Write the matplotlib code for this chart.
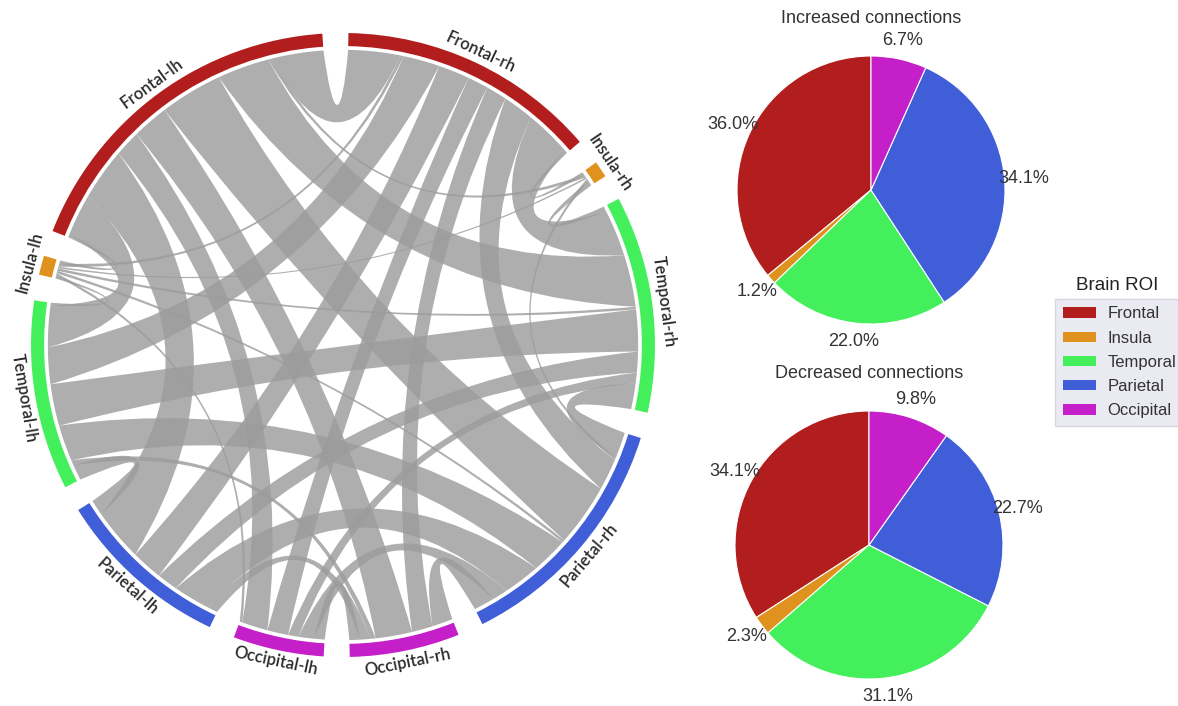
import numpy as np
import matplotlib.pyplot as plt
from matplotlib.path import Path
from matplotlib.patches import PathPatch, Wedge, Patch

plt.rcParams['font.family'] = ['Liberation Sans', 'DejaVu Sans']

# chord nodes, clockwise from the top
nodes = ['Frontal-rh', 'Insula-rh', 'Temporal-rh', 'Parietal-rh', 'Occipital-rh',
         'Occipital-lh', 'Parietal-lh', 'Temporal-lh', 'Insula-lh', 'Frontal-lh']
node_roi = ['Frontal', 'Insula', 'Temporal', 'Parietal', 'Occipital',
            'Occipital', 'Parietal', 'Temporal', 'Insula', 'Frontal']

# connections: node a, node b, strength
link_a = ['Frontal-lh', 'Frontal-lh', 'Frontal-lh', 'Frontal-lh', 'Frontal-lh',
          'Frontal-lh', 'Frontal-lh', 'Frontal-lh', 'Frontal-lh',
          'Frontal-rh', 'Frontal-rh', 'Frontal-rh', 'Frontal-rh', 'Frontal-rh',
          'Frontal-rh', 'Frontal-rh', 'Frontal-rh',
          'Temporal-rh', 'Temporal-rh', 'Temporal-rh', 'Temporal-rh', 'Temporal-rh',
          'Temporal-rh',
          'Parietal-rh', 'Parietal-rh', 'Parietal-rh', 'Parietal-rh', 'Parietal-rh',
          'Parietal-rh',
          'Occipital-rh', 'Occipital-rh', 'Occipital-rh',
          'Occipital-lh', 'Parietal-lh', 'Temporal-lh', 'Insula-lh']
link_b = ['Frontal-rh', 'Temporal-lh', 'Temporal-rh', 'Parietal-rh', 'Occipital-rh',
          'Parietal-lh', 'Occipital-lh', 'Insula-lh', 'Insula-rh',
          'Temporal-rh', 'Temporal-lh', 'Parietal-lh', 'Occipital-lh', 'Parietal-rh',
          'Occipital-rh', 'Insula-lh', 'Insula-rh',
          'Temporal-lh', 'Parietal-rh', 'Parietal-lh', 'Occipital-lh', 'Insula-rh',
          'Insula-lh',
          'Temporal-lh', 'Parietal-lh', 'Occipital-rh', 'Occipital-lh', 'Insula-lh',
          'Insula-rh',
          'Occipital-lh', 'Parietal-lh', 'Temporal-lh',
          'Insula-lh', 'Temporal-lh', 'Insula-lh', 'Insula-rh']
link_w = [10, 8, 10, 12, 7,
          10, 5, 0.6, 0.6,
          9, 7, 6, 4, 6,
          4, 0.6, 0.6,
          8, 5, 4, 2, 1,
          0.5,
          7, 7, 4, 3, 0.5,
          0.5,
          2, 2, 1,
          0.5, 3, 0.5, 0.3]

roi = ['Frontal', 'Insula', 'Temporal', 'Parietal', 'Occipital']
roi_colors = ['#b21e1e', '#e0921e', '#44ef5c', '#3f5ed8', '#c41fc8']
increased = [36.0, 1.2, 22.0, 34.1, 6.7]
decreased = [34.1, 2.3, 31.1, 22.7, 9.8]

W, H = 1178, 706
fig = plt.figure(figsize=(W / 100, H / 100), dpi=100)

# ---------------- chord diagram ----------------
R = 312.0
cx, cy = 343, 345
half = 350
ax = fig.add_axes([(cx - half) / W, (H - cy - half) / H, 2 * half / W, 2 * half / H])
lim = half / R
ax.set_xlim(-lim, lim)
ax.set_ylim(-lim, lim)
ax.set_aspect('equal')
ax.axis('off')

n = len(nodes)
idx = {name: i for i, name in enumerate(nodes)}
size = np.zeros(n)
for a, b, w in zip(link_a, link_b, link_w):
    size[idx[a]] += w
    size[idx[b]] += w

gap = 4.8
scale = (360 - gap * n) / size.sum()
top = np.zeros(n)
t = 89.0
for i in range(n):
    top[i] = t
    t -= size[i] * scale + gap
low = top - size * scale

# place link ends inside each node
ends = {}
for i in range(n):
    mine = []
    for k, (a, b) in enumerate(zip(link_a, link_b)):
        if idx[a] == i:
            mine.append((k, idx[b]))
        elif idx[b] == i:
            mine.append((k, idx[a]))
    mine.sort(key=lambda m: (m[1] - i) % n)
    cur = low[i]
    for k, j in mine:
        ends[(k, i)] = (cur, cur + link_w[k] * scale)
        cur += link_w[k] * scale

track_w = 0.042
r_rib = 1 - track_w - 0.012


def arc_pts(t1, t2, r, num=30):
    tt = np.radians(np.linspace(t1, t2, num))
    return np.column_stack([r * np.cos(tt), r * np.sin(tt)])


def ctrl(t1, t2, r):
    diff = (t2 - t1 + 180) % 360 - 180
    d = abs(diff)
    rc = r * max(0.0, 1 - d / 180) ** 1.3 * 0.65
    mid = np.radians(t1 + diff / 2)
    return [rc * np.cos(mid), rc * np.sin(mid)]


for k, (a, b) in enumerate(zip(link_a, link_b)):
    a1, a2 = ends[(k, idx[a])]
    b1, b2 = ends[(k, idx[b])]
    verts, codes = [], []
    pa = arc_pts(a1, a2, r_rib)
    verts += list(pa)
    codes += [Path.MOVETO] + [Path.LINETO] * (len(pa) - 1)
    pb = arc_pts(b1, b2, r_rib)
    verts += [ctrl(a2, b1, r_rib), pb[0]]
    codes += [Path.CURVE3, Path.CURVE3]
    verts += list(pb[1:])
    codes += [Path.LINETO] * (len(pb) - 1)
    verts += [ctrl(b2, a1, r_rib), pa[0]]
    codes += [Path.CURVE3, Path.CURVE3]
    ax.add_patch(PathPatch(Path(verts, codes), facecolor='#9c9c9c',
                           edgecolor='none', alpha=0.82))

for i in range(n):
    col = roi_colors[roi.index(node_roi[i])]
    ax.add_patch(Wedge((0, 0), 1.0, low[i], top[i], width=track_w,
                       facecolor=col, edgecolor='none'))
    mid = (low[i] + top[i]) / 2
    m = mid % 360
    rot = m - 90 if m < 180 else m + 90
    rl = 1.037
    ax.text(rl * np.cos(np.radians(mid)), rl * np.sin(np.radians(mid)), nodes[i],
            rotation=rot, rotation_mode='anchor', ha='center', va='center',
            fontsize=12, family=['Lato', 'DejaVu Sans'], weight='semibold',
            color='#2a2a2a')

# ---------------- pies ----------------
def pie_axes(px, py, r=134, pad=1.45):
    s = 2 * pad * r
    a = fig.add_axes([(px - s / 2) / W, (H - py - s / 2) / H, s / W, s / H])
    return a, pad


for (px, py), vals, title in [((871, 190), increased, 'Increased connections'),
                              ((869, 545), decreased, 'Decreased connections')]:
    pa, pad = pie_axes(px, py)
    pa.pie(vals, colors=roi_colors, startangle=90, counterclock=True,
           autopct='%1.1f%%', pctdistance=1.14,
           wedgeprops=dict(edgecolor='white', linewidth=0.8),
           textprops=dict(fontsize=13, color='#333333'))
    pa.set_xlim(-pad, pad)
    pa.set_ylim(-pad, pad)
    pa.set_aspect('equal')
    pa.text(0, 1.28, title, ha='center', va='center', fontsize=13, color='#333333')

handles = [Patch(facecolor=c, edgecolor='none', label=l) for c, l in zip(roi_colors, roi)]
leg = fig.legend(handles=handles, loc='upper left', bbox_to_anchor=(1055 / W, 1 - 299 / H),
                 fontsize=12, frameon=True, facecolor='#eaeaf2', edgecolor='#d6d6de',
                 framealpha=1, fancybox=False, handlelength=2.0, handleheight=0.6,
                 handletextpad=0.7, labelspacing=0.55, borderpad=0.45, borderaxespad=0)
for txt in leg.get_texts():
    txt.set_color('#333333')
fig.text(1117 / W, 1 - 285 / H, 'Brain ROI', ha='center', va='center',
         fontsize=13.5, color='#222222')

fig.savefig('out.png', dpi=100)
